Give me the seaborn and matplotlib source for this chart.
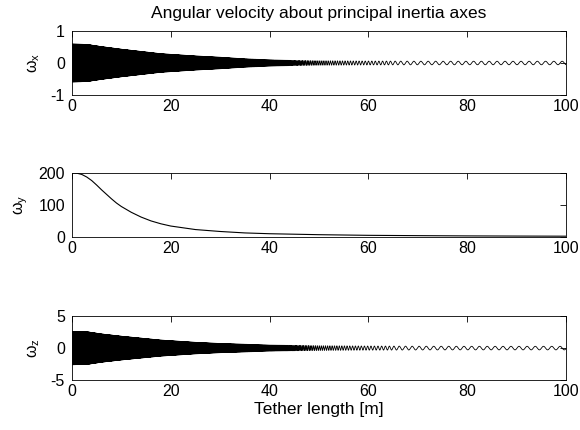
import numpy as np
import pandas as pd
import matplotlib
matplotlib.use("Agg")
import matplotlib.pyplot as plt
import seaborn as sns

# ---- values ----
# envelope of the nutation oscillations (amplitude vs tether length)
env_length = [0, 3, 6, 10, 18, 25, 30, 35, 40, 45, 50, 60, 70, 80, 100]
wx_amp = [0.59, 0.58, 0.51, 0.43, 0.29, 0.22, 0.18, 0.13, 0.10, 0.08, 0.07, 0.06, 0.056, 0.055, 0.055]
wz_amp = [2.6, 2.55, 2.2, 1.85, 1.25, 0.9, 0.72, 0.6, 0.48, 0.42, 0.37, 0.32, 0.29, 0.28, 0.28]
# local oscillation period (m of tether)
period_length = [0, 35, 45, 50, 58, 64, 67, 72, 100]
period_m = [0.05, 0.12, 0.25, 0.4, 0.6, 0.8, 1.3, 1.5, 1.7]
# spin rate about y
wy_length = [0, 1, 2, 3, 4, 5, 6, 7, 8, 9, 10, 12, 14, 16, 18, 20, 25, 30, 35, 40, 50, 60, 70, 80, 90, 100]
wy_val = [200, 199, 195, 187, 176, 162, 147, 133, 119, 106, 95, 77, 62, 50, 41, 34, 23, 17, 12.5, 10, 7, 5, 4, 3.2, 2.7, 2.3]

x_ticks = [0, 20, 40, 60, 80, 100]
wx_ticks = [-1, 0, 1]
wy_ticks = [0, 100, 200]
wz_ticks = [-5, 0, 5]
title = "Angular velocity about principal inertia axes"
xlabel = "Tether length [m]"

# ---- build series from the read values ----
L = np.linspace(0, 100, 120001)
per = np.interp(L, period_length, period_m)
phase = 2 * np.pi * np.concatenate([[0], np.cumsum(np.diff(L) / per[1:])])
wx = np.interp(L, env_length, wx_amp) * np.sin(phase)
wz = np.interp(L, env_length, wz_amp) * np.cos(phase)
df_osc = pd.DataFrame({"L": L, "wx": wx, "wz": wz})
df_wy = pd.DataFrame({"L": wy_length, "wy": wy_val})

sns.set_style("white")
plt.rcParams.update({
    "font.family": ["Liberation Sans", "DejaVu Sans"],
    "mathtext.fontset": "custom",
    "mathtext.rm": "Liberation Sans",
    "mathtext.it": "Liberation Sans",
    "xtick.direction": "in",
    "ytick.direction": "in",
    "xtick.top": True,
    "ytick.right": True,
    "xtick.major.size": 4,
    "ytick.major.size": 4,
    "axes.edgecolor": "black",
    "axes.linewidth": 0.6,
    "xtick.color": "black",
    "ytick.color": "black",
    "text.color": "black",
    "axes.labelcolor": "black",
})

TICK_FS = 11.5
LAB_FS = 12.5

fig = plt.figure(figsize=(5.8, 4.3), dpi=100)
fig.patch.set_facecolor("white")
left, width, h = 0.124, 0.852, 0.149
ax1 = fig.add_axes([left, 0.779, width, h])
ax2 = fig.add_axes([left, 0.449, width, h])
ax3 = fig.add_axes([left, 0.116, width, h])

sns.lineplot(data=df_osc, x="L", y="wx", ax=ax1, color="black", linewidth=0.6,
             estimator=None, sort=False)
sns.lineplot(data=df_wy, x="L", y="wy", ax=ax2, color="black", linewidth=0.8,
             estimator=None, sort=False)
sns.lineplot(data=df_osc, x="L", y="wz", ax=ax3, color="black", linewidth=0.6,
             estimator=None, sort=False)

specs = [(ax1, wx_ticks, r"$\omega_x$"), (ax2, wy_ticks, r"$\omega_y$"), (ax3, wz_ticks, r"$\omega_z$")]
for ax, yt, lab in specs:
    ax.set_xlim(0, 100)
    ax.set_ylim(yt[0], yt[-1])
    ax.set_xticks(x_ticks)
    ax.set_yticks(yt)
    ax.set_xticklabels([str(v) for v in x_ticks], fontsize=TICK_FS)
    ax.set_yticklabels([str(v) for v in yt], fontsize=TICK_FS)
    ax.tick_params(axis="x", which="major", width=0.6, pad=3)
    ax.tick_params(axis="y", which="major", width=0.6, pad=5)
    ax.set_xlabel("")
    ax.set_ylabel(lab, fontsize=TICK_FS, labelpad=6)
    for s in ax.spines.values():
        s.set_visible(True)
        s.set_linewidth(0.6)
    ax.set_facecolor("white")

ax1.set_title(title, fontsize=LAB_FS, pad=9)
ax3.set_xlabel(xlabel, fontsize=LAB_FS, labelpad=2)

fig.savefig("out.png", dpi=100, facecolor="white")
